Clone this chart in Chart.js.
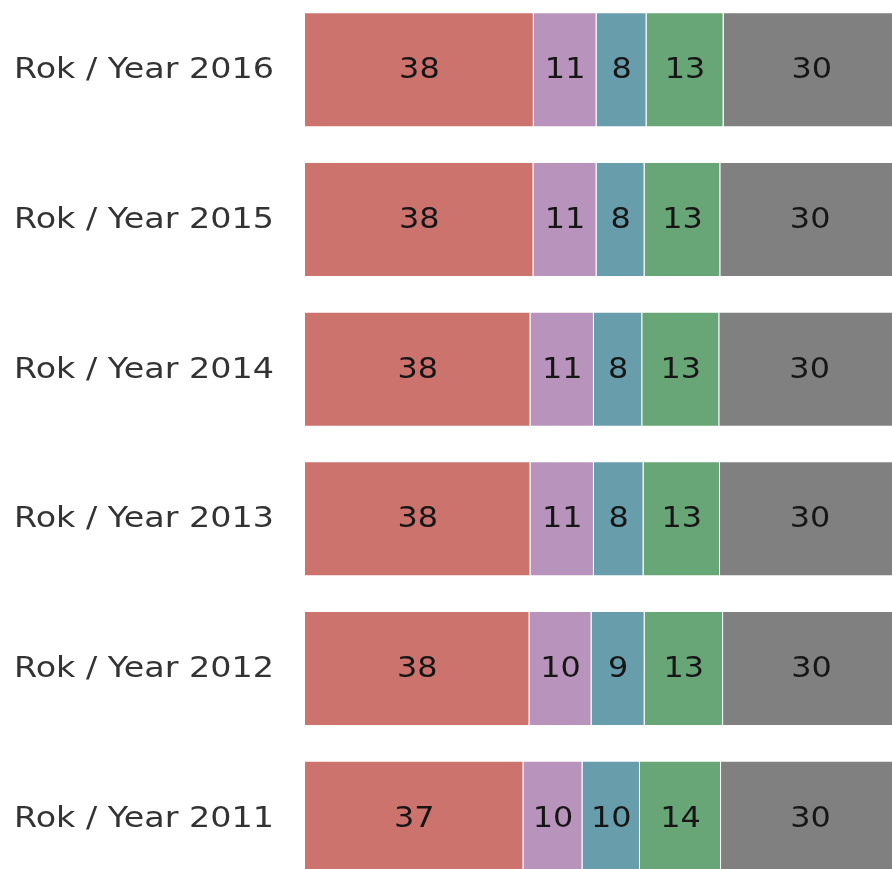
<!DOCTYPE html>
<html>
<head>
<meta charset="utf-8">
<script src="https://cdn.jsdelivr.net/npm/chart.js@4.4.1/dist/chart.umd.min.js"></script>
<style>
  html, body { margin: 0; padding: 0; background: #fff; overflow: hidden; }
  #wrap { position: absolute; left: 0; top: -5px; width: 900px; height: 898px; }
</style>
</head>
<body>
<div id="wrap"><canvas id="stackChart" width="900" height="898"></canvas></div>
<script>
// Categories, top to bottom
const years = ['2016', '2015', '2014', '2013', '2012', '2011'];
const yearLabels = years.map(y => 'Rok / Year ' + y);

// Shares (%) per segment
const seriesA = [38.45, 38.40, 37.90, 37.90, 37.73, 36.72];
const seriesB = [10.55, 10.60, 10.66, 10.66, 10.43,  9.92];
const seriesC = [ 8.40,  8.07,  8.12,  8.34,  8.92,  9.66];
const seriesD = [12.95, 12.73, 12.95, 12.85, 13.19, 13.62];
const seriesE = [29.65, 30.20, 30.37, 30.25, 29.73, 30.08];

const colors = ['#CD736E', '#B894BC', '#689EAC', '#68A678', '#808080'];
const allSeries = [seriesA, seriesB, seriesC, seriesD, seriesE];

const FONT = '"DejaVu Sans", Verdana, sans-serif';

// the original text is a bit wider than DejaVu, so stretch it horizontally
function wideText(ctx, text, x, y, stretch) {
    ctx.save();
    ctx.translate(x, y);
    ctx.scale(stretch, 1);
    ctx.fillText(text, 0, 0);
    ctx.restore();
}

// Category names on the left + rounded value in the middle of every segment
const textLayer = {
    id: 'textLayer',
    afterDatasetsDraw(chart) {
        const ctx = chart.ctx;
        ctx.save();
        ctx.textBaseline = 'middle';

        // category labels
        const yScale = chart.scales.y;
        ctx.font = '29px ' + FONT;
        ctx.fillStyle = '#333333';
        ctx.textAlign = 'left';
        chart.data.labels.forEach((label, i) => {
            wideText(ctx, label, 14, yScale.getPixelForTick(i) + 1, 1.15);
        });

        // segment values
        ctx.font = '29px ' + FONT;
        ctx.fillStyle = '#161616';
        ctx.textAlign = 'center';
        chart.data.datasets.forEach((ds, i) => {
            chart.getDatasetMeta(i).data.forEach((bar, j) => {
                const cx = (bar.x + bar.base) / 2;
                wideText(ctx, String(Math.round(ds.data[j])), cx, bar.y + 1, 1.1);
            });
        });
        ctx.restore();
    }
};

const ctx = document.getElementById('stackChart').getContext('2d');

const stackChart = new Chart(ctx, {
    type: 'bar',
    data: {
        labels: yearLabels,
        datasets: allSeries.map((values, i) => ({
            data: values,
            backgroundColor: colors[i],
            borderColor: 'rgba(255,255,255,0.55)',
            borderWidth: 1,
            barPercentage: 0.7685,
            categoryPercentage: 1
        }))
    },
    options: {
        indexAxis: 'y',
        responsive: false,
        animation: false,
        layout: { padding: 0 },
        plugins: {
            legend: { display: false },
            tooltip: { enabled: false }
        },
        scales: {
            x: {
                stacked: true,
                min: 0,
                max: 100,
                display: false
            },
            y: {
                stacked: true,
                grid: { display: false },
                border: { display: false },
                ticks: { display: false },
                afterFit(scale) { scale.width = 305; }
            }
        }
    },
    plugins: [textLayer]
});
</script>
</body>
</html>
